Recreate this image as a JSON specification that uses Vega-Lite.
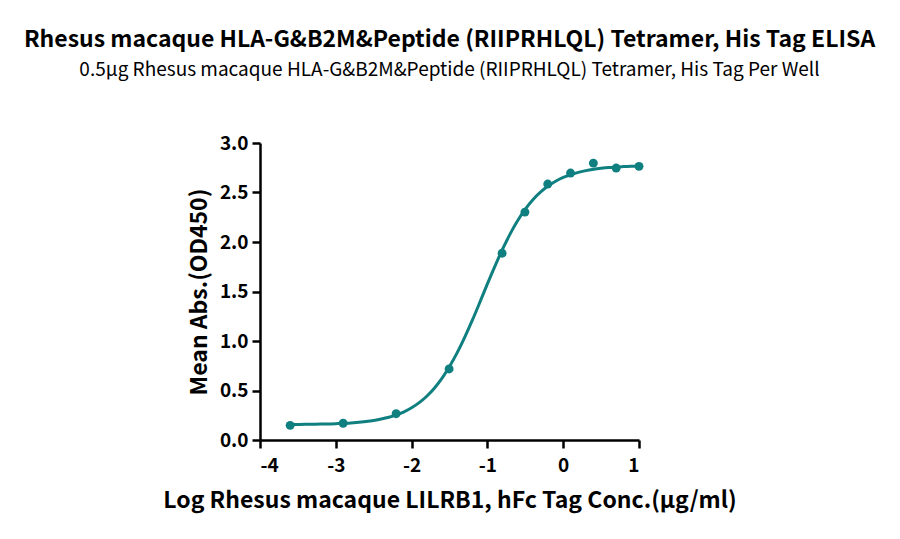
{
  "$schema": "https://vega.github.io/schema/vega-lite/v6.json",
  "width": 379,
  "height": 297,
  "autosize": {"type": "none"},
  "padding": {"left": 260, "top": 143, "right": 261, "bottom": 99},
  "background": "white",
  "config": {
    "font": "Noto Sans CJK SC",
    "view": {"stroke": null},
    "axis": {"grid": false, "domainColor": "black", "domainWidth": 2.5, "tickColor": "black", "tickWidth": 2.5, "tickSize": 8, "labelFont": "Noto Sans CJK SC", "labelFontWeight": "bold", "labelFontSize": 19, "labelColor": "black", "titleFont": "Noto Sans CJK SC", "titleFontWeight": "bold", "titleFontSize": 23, "titleColor": "black"}
  },
  "title": {
    "text": "Rhesus macaque HLA-G&B2M&Peptide (RIIPRHLQL) Tetramer, His Tag ELISA",
    "subtitle": "0.5μg Rhesus macaque HLA-G&B2M&Peptide (RIIPRHLQL) Tetramer, His Tag Per Well",
    "font": "Noto Sans CJK SC",
    "fontSize": 23,
    "fontWeight": "bold",
    "color": "black",
    "subtitleFont": "Noto Sans CJK SC",
    "subtitleFontSize": 19,
    "subtitleColor": "black",
    "subtitlePadding": 9,
    "anchor": "middle",
    "offset": 54
  },
  "datasets": {
    "points": [
      {"logc": -3.602, "od": 0.148},
      {"logc": -2.903, "od": 0.169},
      {"logc": -2.204, "od": 0.266},
      {"logc": -1.505, "od": 0.718},
      {"logc": -0.806, "od": 1.887},
      {"logc": -0.505, "od": 2.302},
      {"logc": -0.204, "od": 2.585},
      {"logc": 0.097, "od": 2.696},
      {"logc": 0.398, "od": 2.797},
      {"logc": 0.699, "od": 2.747},
      {"logc": 1.0, "od": 2.764}
    ],
    "curve": [
      {"logc": -3.6, "od": 0.157},
      {"logc": -3.4, "od": 0.158},
      {"logc": -3.2, "od": 0.161},
      {"logc": -3.0, "od": 0.165},
      {"logc": -2.8, "od": 0.172},
      {"logc": -2.6, "od": 0.187},
      {"logc": -2.5, "od": 0.198},
      {"logc": -2.4, "od": 0.212},
      {"logc": -2.3, "od": 0.230},
      {"logc": -2.2, "od": 0.254},
      {"logc": -2.1, "od": 0.285},
      {"logc": -2.0, "od": 0.325},
      {"logc": -1.9, "od": 0.377},
      {"logc": -1.8, "od": 0.442},
      {"logc": -1.7, "od": 0.523},
      {"logc": -1.6, "od": 0.622},
      {"logc": -1.5, "od": 0.742},
      {"logc": -1.4, "od": 0.880},
      {"logc": -1.3, "od": 1.037},
      {"logc": -1.2, "od": 1.208},
      {"logc": -1.1, "od": 1.390},
      {"logc": -1.0, "od": 1.577},
      {"logc": -0.9, "od": 1.757},
      {"logc": -0.8, "od": 1.927},
      {"logc": -0.7, "od": 2.082},
      {"logc": -0.6, "od": 2.217},
      {"logc": -0.5, "od": 2.332},
      {"logc": -0.4, "od": 2.427},
      {"logc": -0.3, "od": 2.503},
      {"logc": -0.2, "od": 2.565},
      {"logc": -0.1, "od": 2.614},
      {"logc": 0.0, "od": 2.652},
      {"logc": 0.1, "od": 2.681},
      {"logc": 0.2, "od": 2.703},
      {"logc": 0.3, "od": 2.721},
      {"logc": 0.4, "od": 2.734},
      {"logc": 0.5, "od": 2.744},
      {"logc": 0.6, "od": 2.752},
      {"logc": 0.7, "od": 2.757},
      {"logc": 0.8, "od": 2.762},
      {"logc": 0.9, "od": 2.765},
      {"logc": 1.0, "od": 2.767}
    ]
  },
  "encoding": {
    "x": {"field": "logc", "type": "quantitative", "scale": {"domain": [-4, 1], "nice": false, "zero": false},
      "axis": {"values": [-4, -3, -2, -1, 0, 1], "labelExpr": "datum.value + ''", "title": "Log Rhesus macaque LILRB1, hFc Tag Conc.(μg/ml)", "labelPadding": 8, "titlePadding": 14}},
    "y": {"field": "od", "type": "quantitative", "scale": {"domain": [0, 3], "nice": false},
      "axis": {"values": [0, 0.5, 1, 1.5, 2, 2.5, 3], "format": ".1f", "title": "Mean Abs.(OD450)", "labelPadding": 4, "titlePadding": 8}}
  },
  "layer": [
    {"data": {"name": "curve"}, "mark": {"type": "line", "color": "#0f7f80", "strokeWidth": 3, "interpolate": "monotone"}},
    {"data": {"name": "points"}, "mark": {"type": "circle", "color": "#0f7f80", "opacity": 1, "size": 80}}
  ]
}
